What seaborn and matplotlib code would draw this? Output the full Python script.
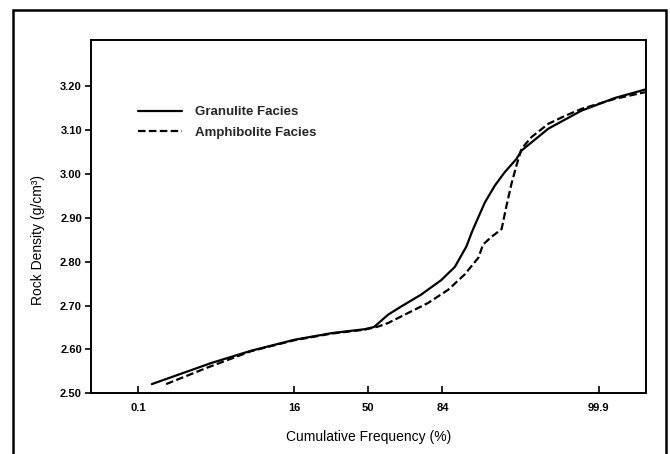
from statistics import NormalDist

import matplotlib
matplotlib.use("Agg")
import matplotlib.pyplot as plt
from matplotlib.patches import Rectangle
import numpy as np
import pandas as pd
import seaborn as sns

# Cumulative frequency (%) and rock density (g/cm3) for each facies
granulite_freq = [0.185, 1.76, 5.8, 16.1, 31, 48, 53.0, 56.5, 60.4, 67.1, 76.1, 83.6,
                  87.7, 90.6, 91.7, 92.7, 94.1, 95.5, 96.6, 97.65, 98.0, 99.21,
                  99.787, 99.953, 99.9896]
granulite_density = [2.521, 2.569, 2.597, 2.622, 2.637, 2.646, 2.651, 2.664, 2.679,
                     2.698, 2.725, 2.758, 2.788, 2.835, 2.866, 2.893, 2.935, 2.973,
                     3.003, 3.034, 3.053, 3.103, 3.144, 3.173, 3.192]

amphibolite_freq = [0.335, 1.57, 5.8, 16.1, 31, 48, 55.2, 60.4, 70.3, 78.9, 85.8, 90.2,
                    93.0, 93.8, 95.1, 96.3, 96.8, 97.25, 97.65, 98.0, 98.57, 99.21,
                    99.58, 99.787, 99.953, 99.9896]
amphibolite_density = [2.521, 2.559, 2.596, 2.621, 2.636, 2.645, 2.652, 2.660, 2.683,
                       2.706, 2.736, 2.771, 2.809, 2.839, 2.857, 2.874, 2.927, 2.977,
                       3.019, 3.057, 3.084, 3.114, 3.132, 3.148, 3.171, 3.186]

series_names = ["Granulite Facies", "Amphibolite Facies"]
x_ticks = [0.1, 16, 50, 84, 99.9]
x_tick_labels = ["0.1", "16", "50", "84", "99.9"]
y_ticks = [2.50, 2.60, 2.70, 2.80, 2.90, 3.00, 3.10, 3.20]

df = pd.concat([
    pd.DataFrame({"freq": granulite_freq, "density": granulite_density,
                  "facies": series_names[0]}),
    pd.DataFrame({"freq": amphibolite_freq, "density": amphibolite_density,
                  "facies": series_names[1]}),
], ignore_index=True)

# Normal-probability axis: percent <-> standard normal quantile
_nd = NormalDist()
_ppf = np.vectorize(_nd.inv_cdf, otypes=[float])
_cdf = np.vectorize(_nd.cdf, otypes=[float])


def prob_forward(p):
    p = np.asarray(p, dtype=float) / 100.0
    p = np.clip(np.nan_to_num(p, nan=0.5), 1e-12, 1 - 1e-12)
    return _ppf(p)


def prob_inverse(z):
    z = np.asarray(z, dtype=float)
    return _cdf(np.nan_to_num(z)) * 100.0


sns.set_style("white")
plt.rcParams["font.family"] = ["Liberation Sans", "DejaVu Sans"]

fig = plt.figure(figsize=(6.7, 4.54), dpi=100)
ax = fig.add_axes([0.1358, 0.1337, 0.8279, 0.7782])
ax.set_xscale("function", functions=(prob_forward, prob_inverse))

sns.lineplot(data=df, x="freq", y="density", hue="facies", style="facies",
             palette={series_names[0]: "black", series_names[1]: "black"},
             dashes={series_names[0]: "", series_names[1]: (3.4, 1.5)},
             linewidth=1.6, sort=False, estimator=None, ax=ax)

ax.set_xlim(0.01, 99.99)
ax.set_ylim(2.50, 3.305)
ax.set_xticks(x_ticks)
ax.set_xticklabels(x_tick_labels)
ax.set_yticks(y_ticks)
ax.set_yticklabels([f"{v:.2f}" for v in y_ticks])
ax.minorticks_off()

ax.tick_params(axis="x", direction="in", length=5, width=1.2, pad=7,
               labelsize=8, colors="black", bottom=True)
ax.tick_params(axis="y", direction="out", length=4, width=1.2, pad=2.5,
               labelsize=8, colors="black", left=True)
for lab in ax.get_xticklabels() + ax.get_yticklabels():
    lab.set_fontweight("bold")

for sp in ax.spines.values():
    sp.set_visible(True)
    sp.set_color("black")
    sp.set_linewidth(1.4)

ax.set_xlabel("Cumulative Frequency (%)", fontsize=10, labelpad=12, color="black")
ax.set_ylabel("Rock Density (g/cm³)", fontsize=10, labelpad=10, color="black")
ax.yaxis.set_label_coords(-0.083, 0.434)

sns.move_legend(ax, "upper left", bbox_to_anchor=(0.0847, 0.813), title=None,
                frameon=False, fontsize=9.5, handlelength=3.3, handletextpad=1.0,
                labelspacing=0.62, borderpad=0, borderaxespad=0)
for txt in ax.get_legend().get_texts():
    txt.set_fontweight("bold")

# Outer frame around the whole figure
fig.patches.append(Rectangle((13 / 670, -0.05), (666 - 13) / 670, 1.05 - 10 / 454,
                             transform=fig.transFigure, fill=False,
                             edgecolor="black", linewidth=1.8))

fig.savefig("out.png", dpi=100)
